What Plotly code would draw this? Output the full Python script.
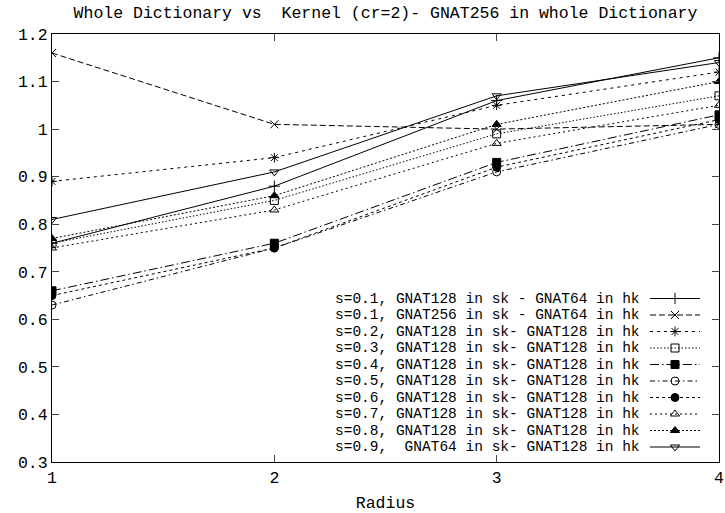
import plotly.graph_objects as go

# ---------------- data ----------------
radius = [1, 2, 3, 4]

series_labels = [
    "s=0.1, GNAT128 in sk - GNAT64 in hk",
    "s=0.1, GNAT256 in sk - GNAT64 in hk",
    "s=0.2, GNAT128 in sk- GNAT128 in hk",
    "s=0.3, GNAT128 in sk- GNAT128 in hk",
    "s=0.4, GNAT128 in sk- GNAT128 in hk",
    "s=0.5, GNAT128 in sk- GNAT128 in hk",
    "s=0.6, GNAT128 in sk- GNAT128 in hk",
    "s=0.7, GNAT128 in sk- GNAT128 in hk",
    "s=0.8, GNAT128 in sk- GNAT128 in hk",
    "s=0.9,  GNAT64 in sk- GNAT128 in hk",
]

s01_128_64 = [0.76, 0.88, 1.06, 1.15]
s01_256_64 = [1.16, 1.01, 1.00, 1.01]
s02 = [0.89, 0.94, 1.05, 1.12]
s03 = [0.76, 0.85, 0.99, 1.07]
s04 = [0.66, 0.76, 0.93, 1.03]
s05 = [0.63, 0.75, 0.91, 1.01]
s06 = [0.65, 0.75, 0.92, 1.02]
s07 = [0.75, 0.83, 0.97, 1.05]
s08 = [0.77, 0.86, 1.01, 1.10]
s09 = [0.81, 0.91, 1.07, 1.14]

series_values = [s01_128_64, s01_256_64, s02, s03, s04, s05, s06, s07, s08, s09]

y_ticks = [0.3, 0.4, 0.5, 0.6, 0.7, 0.8, 0.9, 1.0, 1.1, 1.2]
y_tick_text = ["0.3", "0.4", "0.5", "0.6", "0.7", "0.8", "0.9", "1", "1.1", "1.2"]

title_text = "Whole Dictionary vs\u00a0\u00a0Kernel (cr=2)- GNAT256 in whole Dictionary"
x_title = "Radius"

# ---------------- styles ----------------
dashes = [
    "solid",
    "6px,3px",
    "3px,4px",
    "1.5px,2px",
    "9px,3px,1.5px,3px",
    "5px,3px,1.5px,3px",
    "3px,3px",
    "2px,3px",
    "2px,2px",
    "solid",
]
symbols = [
    "cross-thin-open",
    "x-thin-open",
    "asterisk-open",
    "square-open",
    "square",
    "circle-open",
    "circle",
    "triangle-up-open",
    "triangle-up",
    "triangle-down-open",
]

FONT = "Liberation Mono, Courier New, monospace"
FS = 16.5
FS_KEY = 14.5
W, H = 725, 513
L, R, T, B = 52, 6, 34, 51
PW, PH = W - L - R, H - T - B

fig = go.Figure()

for vals, dash, sym in zip(series_values, dashes, symbols):
    fig.add_trace(go.Scatter(
        x=radius, y=vals, mode="lines+markers",
        line=dict(color="black", width=1, dash=dash),
        marker=dict(symbol=sym, size=8, color="black",
                    line=dict(color="black", width=1)),
        showlegend=False, hoverinfo="skip",
    ))

# ---------------- gnuplot-style key (text left, sample right) ----------------
def fx(px):
    return (px - L) / PW

def fy(py):
    return 1 - (py - T) / PH

row0, row_step = 298.5, 16.5
text_right, samp_l, samp_r = 642, 650, 700
annotations = []
for i, (lab, dash, sym) in enumerate(zip(series_labels, dashes, symbols)):
    yy = fy(row0 + row_step * i)
    fig.add_trace(go.Scatter(
        x=[fx(samp_l), fx(samp_r)], y=[yy, yy], mode="lines",
        line=dict(color="black", width=1, dash=dash),
        xaxis="x2", yaxis="y2", showlegend=False, hoverinfo="skip",
    ))
    fig.add_trace(go.Scatter(
        x=[fx((samp_l + samp_r) / 2)], y=[yy], mode="markers",
        marker=dict(symbol=sym, size=8, color="black",
                    line=dict(color="black", width=1)),
        xaxis="x2", yaxis="y2", showlegend=False, hoverinfo="skip",
    ))
    annotations.append(dict(
        x=fx(text_right), y=yy, xref="x2", yref="y2",
        text=lab.replace("  ", "\u00a0\u00a0"), showarrow=False,
        xanchor="right", yanchor="middle",
        font=dict(family=FONT, size=FS_KEY, color="black"),
    ))

fig.update_layout(
    width=W, height=H,
    margin=dict(l=L, r=R, t=T, b=B, autoexpand=False),
    paper_bgcolor="white", plot_bgcolor="white",
    font=dict(family=FONT, size=FS, color="black"),
    title=dict(text=title_text, x=0.5, xref="paper", xanchor="center",
               y=1 - 12 / H, yref="container", yanchor="middle",
               font=dict(family=FONT, size=FS, color="black")),
    xaxis=dict(range=[1, 4], tickvals=radius, ticks="inside", ticklen=7,
               showline=True, linecolor="black", linewidth=1, mirror="ticks",
               showgrid=False, zeroline=False,
               tickfont=dict(family=FONT, size=FS, color="black"),
               title=dict(text=x_title, standoff=10,
                          font=dict(family=FONT, size=FS, color="black"))),
    yaxis=dict(range=[0.3, 1.2], tickvals=y_ticks, ticktext=y_tick_text,
               ticks="inside", ticklen=7,
               showline=True, linecolor="black", linewidth=1, mirror="ticks",
               showgrid=False, zeroline=False,
               tickfont=dict(family=FONT, size=FS, color="black")),
    xaxis2=dict(range=[0, 1], overlaying="x", anchor="y2", visible=False),
    yaxis2=dict(range=[0, 1], overlaying="y", anchor="x2", visible=False),
    annotations=annotations,
    showlegend=False,
)

fig.write_html("out.html")
